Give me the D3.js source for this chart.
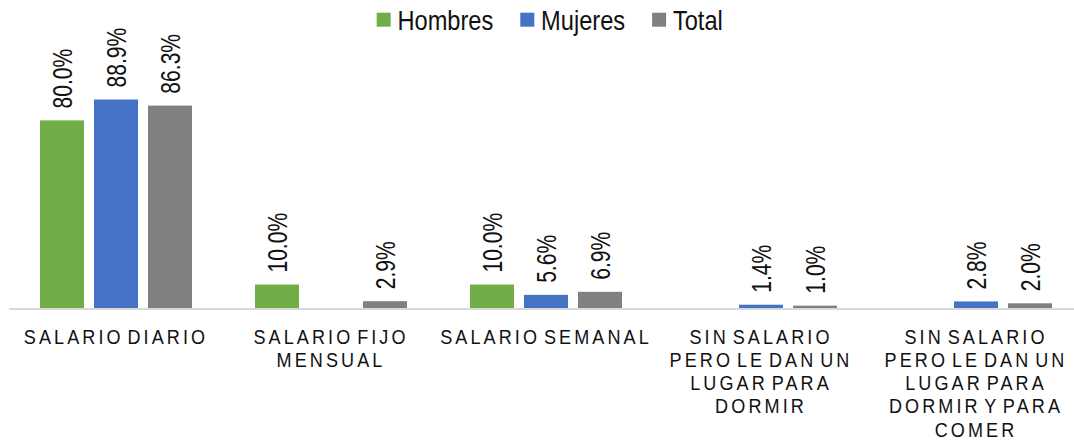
<!DOCTYPE html>
<html>
<head>
<meta charset="utf-8">
<script src="https://cdn.jsdelivr.net/npm/d3@7/dist/d3.min.js"></script>
<style>
  html, body { margin: 0; padding: 0; background: #fff; }
  svg { display: block; }
  text { font-family: "Liberation Sans", Arial, sans-serif; }
</style>
</head>
<body>
<svg id="chart" width="1074" height="444"></svg>
<script>
// ---- data ----
const categories = [
  "SALARIO DIARIO",
  "SALARIO FIJO\nMENSUAL",
  "SALARIO SEMANAL",
  "SIN SALARIO\nPERO LE DAN UN\nLUGAR PARA\nDORMIR",
  "SIN SALARIO\nPERO LE DAN UN\nLUGAR PARA\nDORMIR Y PARA\nCOMER"
];
const seriesNames = ["Hombres", "Mujeres", "Total"];
const hombres = [80.0, 10.0, 10.0, 0, 0];
const mujeres = [88.9, 0, 5.6, 1.4, 2.8];
const total   = [86.3, 2.9, 6.9, 1.0, 2.0];
const seriesColors = ["#70ad47", "#4472c4", "#808080"];

const seriesValues = [hombres, mujeres, total];

// ---- layout ----
const svg = d3.select("#chart");
const baseY = 308;

const x0 = d3.scaleBand()
  .domain(categories)
  .range([8.5, 1083.5])
  .paddingInner(0.293)
  .paddingOuter(0.1465);

const x1 = d3.scaleBand()
  .domain(seriesNames)
  .range([0, x0.bandwidth()])
  .paddingInner(10 / 54);

const y = d3.scaleLinear().domain([0, 100]).range([baseY, 73.5]);

const color = d3.scaleOrdinal().domain(seriesNames).range(seriesColors);

const rows = [];
categories.forEach((c, i) => {
  seriesNames.forEach((s, j) => {
    rows.push({ cat: c, series: s, value: seriesValues[j][i] });
  });
});

// bars
svg.append("g").selectAll("rect")
  .data(rows.filter(d => d.value > 0))
  .join("rect")
  .attr("x", d => x0(d.cat) + x1(d.series))
  .attr("y", d => y(d.value))
  .attr("width", x1.bandwidth())
  .attr("height", d => y(0) - y(d.value))
  .attr("fill", d => color(d.series));

// axis line
const xAxis = d3.axisBottom(x0).tickSize(0).tickFormat("");
const axisG = svg.append("g").attr("transform", `translate(0,${baseY + 1})`).call(xAxis);
axisG.select(".domain")
  .attr("d", "M9,0H1074")
  .attr("stroke", "#d9d9d9")
  .attr("stroke-width", 2);

// category labels
const labelG = svg.append("g");
categories.forEach(c => {
  const lines = c.split("\n");
  const cx = x0(c) + x0.bandwidth() / 2;
  lines.forEach((ln, k) => {
    labelG.append("text")
      .attr("transform", `translate(${cx},${343.5 + k * 23.3}) scale(0.86,1)`)
      .attr("text-anchor", "middle")
      .attr("font-size", 21)
      .attr("letter-spacing", 3.6)
      .attr("word-spacing", -5)
      .attr("fill", "#111")
      .text(ln);
  });
});

// data labels
svg.append("g").selectAll("text")
  .data(rows.filter(d => d.value > 0))
  .join("text")
  .attr("transform", d => {
    const cx = x0(d.cat) + x1(d.series) + x1.bandwidth() / 2;
    return `translate(${cx},${y(d.value) - 12}) rotate(-90) scale(0.78,1)`;
  })
  .attr("dy", "0.36em")
  .attr("font-size", 27)
  .attr("fill", "#111")
  .text(d => d3.format(".1f")(d.value) + "%");

// legend
const legend = svg.append("g");
let lx = 376.7;
seriesNames.forEach(s => {
  legend.append("rect")
    .attr("x", lx).attr("y", 12.7)
    .attr("width", 14).attr("height", 14)
    .attr("fill", color(s));
  const t = legend.append("text")
    .attr("transform", `translate(${lx + 20.8},30) scale(0.875,1)`)
    .attr("font-size", 27)
    .attr("fill", "#111")
    .text(s);
  const w = t.node().getComputedTextLength() * 0.875;
  lx = lx + 20.8 + w + 27;
});
</script>
</body>
</html>
